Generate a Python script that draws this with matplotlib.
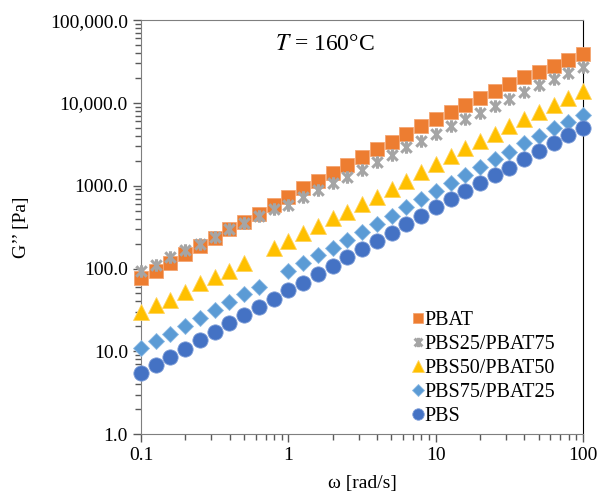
import numpy as np
import matplotlib
matplotlib.use("Agg")
import matplotlib.pyplot as plt
from matplotlib.path import Path
from matplotlib.ticker import FixedLocator, FixedFormatter, LogLocator, NullFormatter

plt.rcParams['font.family'] = ['Liberation Serif', 'DejaVu Serif']
plt.rcParams['mathtext.fontset'] = 'stix'

nan = np.nan
omega = [0.1, 0.126, 0.158, 0.2, 0.251, 0.316, 0.398, 0.501, 0.631, 0.794,
         1.0, 1.26, 1.58, 2.0, 2.51, 3.16, 3.98, 5.01, 6.31, 7.94,
         10.0, 12.6, 15.8, 20.0, 25.1, 31.6, 39.8, 50.1, 63.1, 79.4, 100.0]

pbat = [76, 94, 117, 149, 187, 235, 297, 361, 450, 583,
        728, 927, 1146, 1409, 1775, 2234, 2767, 3389, 4199, 5248,
        6350, 7820, 9400, 11530, 13900, 16870, 20300, 23770, 27800, 32900, 38840]
pbs25 = [93, 110, 136, 167, 197, 242, 297, 356, 430, 517,
         590, 722, 885, 1066, 1282, 1543, 1945, 2344, 2951, 3483,
         4250, 5250, 6320, 7590, 9140, 11010, 13620, 16400, 19230, 23120, 27300]
pbs50 = [30, 36, 42, 52, 66, 78, 94, 115, nan, 175,
         216, 265, 325, 403, 484, 600, 740, 915, 1140, 1450,
         1824, 2290, 2820, 3480, 4240, 5200, 6400, 7700, 9400, 11330, 13900]
pbs75 = [11.1, 13.3, 16.4, 20.3, 24.9, 31.5, 39, 49, 59, nan,
         94, 117, 145, 178, 220, 277, 344, 433, 547, 690,
         867, 1084, 1343, 1663, 2080, 2567, 3240, 3970, 4920, 5910, 7130]
pbs = [5.4, 6.8, 8.6, 10.7, 13.6, 17.2, 21.7, 27.4, 34.4, 42.4,
       54.8, 67, 85.5, 108, 136, 170, 216, 270, 344, 430,
       547, 682, 867, 1084, 1343, 1645, 2080, 2620, 3240, 4080, 4920]

labels = ["PBAT", "PBS25/PBAT75", "PBS50/PBAT50", "PBS75/PBAT25", "PBS"]
y_ticks = [1, 10, 100, 1000, 10000, 100000]
y_ticklabels = ["1.0", "10.0", "100.0", "1000.0", "10,000.0", "100,000.0"]
x_ticks = [0.1, 1, 10, 100]
x_ticklabels = ["0.1", "1", "10", "100"]

# excel-style asterisk: an x with a vertical bar through it
star = Path([(-1, -1), (1, 1), (-1, 1), (1, -1), (0, -1.2), (0, 1.2)],
            [Path.MOVETO, Path.LINETO, Path.MOVETO, Path.LINETO, Path.MOVETO, Path.LINETO])

fig = plt.figure(figsize=(5.98, 5.03), dpi=100)
ax = fig.add_axes([0.236, 0.137, 0.739, 0.823])

ax.plot(omega, pbat, ls='none', marker='s', ms=9.5, color='#ED7D31', mec='#F4A672',
        mew=0.6, clip_on=False, label=labels[0], zorder=3)
ax.plot(omega, pbs25, ls='none', marker=star, ms=9, color='#A5A5A5', mew=2.2,
        clip_on=False, label=labels[1], zorder=4)
ax.plot(omega, pbs50, ls='none', marker='^', ms=11, color='#FFC000', mec='#FFD45C',
        mew=0.6, clip_on=False, label=labels[2], zorder=3)
ax.plot(omega, pbs75, ls='none', marker='D', ms=8, color='#5B9BD5', mec='#8DBBE4',
        mew=0.6, clip_on=False, label=labels[3], zorder=3)
ax.plot(omega, pbs, ls='none', marker='o', ms=11, color='#4472C4', mec='#7F9ED8',
        mew=0.6, clip_on=False, label=labels[4], zorder=4)

ax.set_xscale('log')
ax.set_yscale('log')
ax.set_xlim(0.1, 100)
ax.set_ylim(1, 100000)

ax.yaxis.set_major_locator(FixedLocator(y_ticks))
ax.yaxis.set_major_formatter(FixedFormatter(y_ticklabels))
ax.yaxis.set_minor_locator(LogLocator(base=10, subs=np.arange(2, 10)))
ax.yaxis.set_minor_formatter(NullFormatter())
ax.xaxis.set_major_locator(FixedLocator(x_ticks))
ax.xaxis.set_major_formatter(FixedFormatter(x_ticklabels))
ax.xaxis.set_minor_locator(LogLocator(base=10, subs=np.arange(2, 10)))
ax.xaxis.set_minor_formatter(NullFormatter())

ax.tick_params(which='both', direction='out', colors='#595959', labelcolor='black',
               labelsize=14, top=False, right=False)
ax.tick_params(which='major', length=6, width=1)
ax.tick_params(which='minor', length=4, width=1)

for side in ['left', 'bottom', 'top']:
    ax.spines[side].set_color('#7f7f7f')
ax.spines['right'].set_color('black')

ax.set_xlabel("\u03c9 [rad/s]", fontsize=14, labelpad=8)
ax.set_ylabel("G\u2019\u2019 [Pa]", fontsize=14, labelpad=14)

ax.text(0.415, 0.94, r"$T$ = 160°C", transform=ax.transAxes, fontsize=17,
        ha='center', va='center')

ax.legend(loc='lower right', bbox_to_anchor=(0.965, -0.01), frameon=False, fontsize=14.5,
          handlelength=0.5, handletextpad=0.1, labelspacing=0.25, borderaxespad=0.2,
          markerscale=0.75)

fig.savefig("out.png", dpi=100)
